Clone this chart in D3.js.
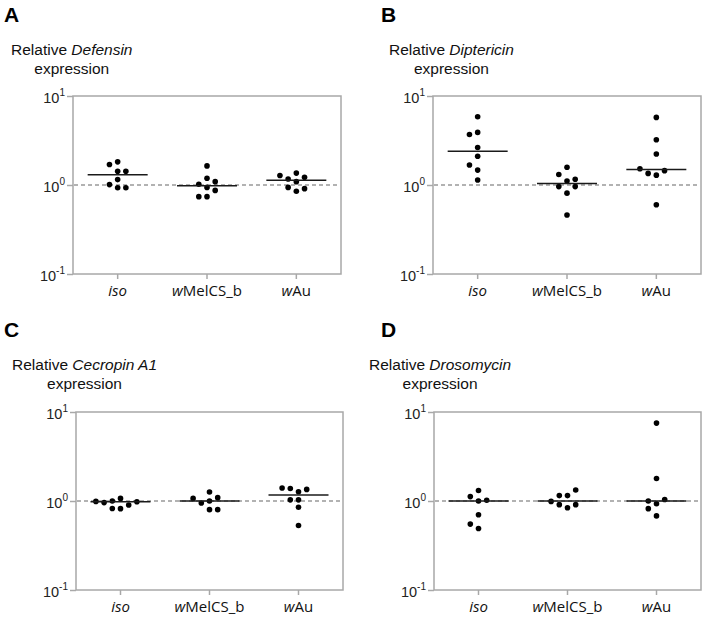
<!DOCTYPE html>
<html><head><meta charset="utf-8">
<script src="https://cdn.jsdelivr.net/npm/d3@7"></script>
<style>body{margin:0;background:#fff}svg{display:block}</style>
</head><body>
<svg id="chart" width="707" height="618"></svg>
<script>
// ---------- data ----------
const categories = ["iso", "wMelCS_b", "wAu"];
const categoryItalicPart = ["iso", "w", "w"];
const yTickValues = [0.1, 1, 10];
const yTickExponents = ["-1", "0", "1"];
const panelLetters = ["A", "B", "C", "D"];
const geneNames = ["Defensin", "Diptericin", "Cecropin A1", "Drosomycin"];

const defensinIso  = [1.82, 1.70, 1.43, 1.43, 1.15, 1.01, 0.93, 0.93];
const defensinWMel = [1.64, 1.19, 1.02, 1.09, 0.94, 0.87, 0.74, 0.74];
const defensinWAu  = [1.36, 1.17, 1.22, 1.28, 1.09, 0.94, 0.91, 0.85];
const defensinMedians = [1.30, 0.98, 1.13];

const diptericinIso  = [5.85, 3.9, 3.7, 2.64, 2.10, 1.47, 1.68, 1.14];
const diptericinWMel = [1.58, 1.11, 1.31, 1.16, 0.81, 0.96, 0.96, 0.46];
const diptericinWAu  = [5.75, 3.23, 2.23, 1.29, 1.35, 1.45, 1.52, 0.60];
const diptericinMedians = [2.39, 1.04, 1.49];

const cecropinIso  = [1.07, 0.82, 0.825, 0.90, 0.96, 0.98, 0.99, 1.00];
const cecropinWMel = [1.26, 1.00, 0.95, 1.09, 1.07, 0.80, 0.80];
const cecropinWAu  = [1.27, 1.38, 1.35, 1.40, 0.85, 1.03, 1.03, 0.53];
const cecropinMedians = [0.98, 1.00, 1.17];

const drosomycinIso  = [1.31, 1.00, 1.12, 1.02, 0.70, 0.49, 0.55];
const drosomycinWMel = [1.15, 1.15, 1.33, 0.84, 0.91, 0.91, 0.99];
const drosomycinWAu  = [7.5, 1.79, 0.93, 0.68, 1.00, 1.04, 0.82];
const drosomycinMedians = [1.00, 1.00, 1.00];

// ---------- layout ----------
const panels = [
  {letter: panelLetters[0], gene: geneNames[0], groups: [defensinIso, defensinWMel, defensinWAu], medians: defensinMedians,
   box: {l: 73, r: 341, t: 96, b: 274}, lx: 4, ly: 22, tx: 11, ty: 55},
  {letter: panelLetters[1], gene: geneNames[1], groups: [diptericinIso, diptericinWMel, diptericinWAu], medians: diptericinMedians,
   box: {l: 433, r: 701, t: 96, b: 274}, lx: 381, ly: 22, tx: 389, ty: 55},
  {letter: panelLetters[2], gene: geneNames[2], groups: [cecropinIso, cecropinWMel, cecropinWAu], medians: cecropinMedians,
   box: {l: 76, r: 343, t: 412, b: 590}, lx: 4, ly: 337, tx: 12, ty: 370},
  {letter: panelLetters[3], gene: geneNames[3], groups: [drosomycinIso, drosomycinWMel, drosomycinWAu], medians: drosomycinMedians,
   box: {l: 434, r: 701, t: 412, b: 590}, lx: 381, ly: 337, tx: 369, ty: 370}
];

const svg = d3.select("#chart");
const AXIS = "#a8a8a8";
const FONT = "'Liberation Sans', Arial, sans-serif";
const CATFONT = "'Open Sans', 'Noto Sans', sans-serif";
const SLOT = 8.2, R = 2.8, T = 7.2;

panels.forEach(p => {
  const g = svg.append("g");
  const b = p.box;
  const x = d3.scaleBand().domain(categories).range([b.l, b.r]);
  const y = d3.scaleLog().domain([0.1, 10]).range([b.b, b.t]);

  // panel letter
  g.append("text").attr("x", p.lx).attr("y", p.ly)
    .attr("font-family", FONT).attr("font-weight", "bold").attr("font-size", 21).attr("fill", "#000")
    .text(p.letter);

  // title (two lines, centered block)
  const t1 = g.append("text").attr("x", p.tx).attr("y", p.ty)
    .attr("font-family", FONT).attr("font-size", 15.5).attr("fill", "#111");
  t1.append("tspan").text("Relative ");
  t1.append("tspan").attr("font-style", "italic").text(p.gene);
  const bb = t1.node().getBBox();
  g.append("text").attr("x", bb.x + bb.width / 2).attr("y", p.ty + 19)
    .attr("text-anchor", "middle")
    .attr("font-family", FONT).attr("font-size", 15.5).attr("fill", "#111")
    .text("expression");

  // box
  g.append("rect").attr("x", b.l).attr("y", b.t).attr("width", b.r - b.l).attr("height", b.b - b.t)
    .attr("fill", "none").attr("stroke", AXIS).attr("stroke-width", 1.5);

  // y axis ticks and labels
  const yAxis = d3.axisLeft(y).tickValues(yTickValues).tickSize(6).tickFormat("");
  const ya = g.append("g").attr("transform", `translate(${b.l},0)`).call(yAxis);
  ya.select(".domain").remove();
  ya.selectAll("line").attr("stroke", AXIS).attr("stroke-width", 1.5);
  yTickValues.forEach((v, i) => {
    const lab = g.append("text").attr("x", b.l - 8).attr("y", y(v) + 7)
      .attr("text-anchor", "end").attr("font-family", FONT).attr("font-size", 14.5).attr("fill", "#222");
    lab.append("tspan").text("10");
    lab.append("tspan").attr("font-size", 10).attr("dy", -7).text(yTickExponents[i]);
  });

  // x axis ticks and labels
  const xAxis = d3.axisBottom(x).tickSize(5).tickFormat("");
  const xa = g.append("g").attr("transform", `translate(0,${b.b})`).call(xAxis);
  xa.select(".domain").remove();
  xa.selectAll("line").attr("stroke", AXIS).attr("stroke-width", 1.5);
  categories.forEach((c, i) => {
    const cx = x(c) + x.bandwidth() / 2;
    const lab = g.append("text").attr("x", cx).attr("y", b.b + 22)
      .attr("text-anchor", "middle").attr("font-family", CATFONT).attr("font-size", 15).attr("fill", "#111");
    const it = categoryItalicPart[i];
    lab.append("tspan").attr("font-style", "italic").text(it);
    if (c.length > it.length) lab.append("tspan").text(c.slice(it.length));
  });

  // reference dashed line at 1
  g.append("line").attr("x1", b.l + 1).attr("x2", b.r - 1).attr("y1", y(1)).attr("y2", y(1))
    .attr("stroke", "#999").attr("stroke-width", 1.5).attr("stroke-dasharray", "4,3");

  // dots: greedy slot dodge
  const order = [0, -1, 1, -2, 2, -3, 3, -4, 4];
  p.groups.forEach((vals, gi) => {
    const cx = x(categories[gi]) + x.bandwidth() / 2;
    const placed = [];
    const pts = vals.map(v => {
      const py = y(v);
      let slot = 0;
      for (const s of order) {
        if (!placed.some(q => q.s === s && Math.abs(q.y - py) < T)) { slot = s; break; }
      }
      placed.push({s: slot, y: py});
      return {v, slot};
    });
    g.selectAll(null).data(pts).enter().append("circle")
      .attr("cx", d => cx + d.slot * SLOT).attr("cy", d => y(d.v)).attr("r", R).attr("fill", "#000");
    // median
    g.append("line").attr("x1", cx - 30).attr("x2", cx + 30)
      .attr("y1", y(p.medians[gi])).attr("y2", y(p.medians[gi]))
      .attr("stroke", "#1a1a1a").attr("stroke-width", 1.5);
  });
});
</script>
</body></html>
